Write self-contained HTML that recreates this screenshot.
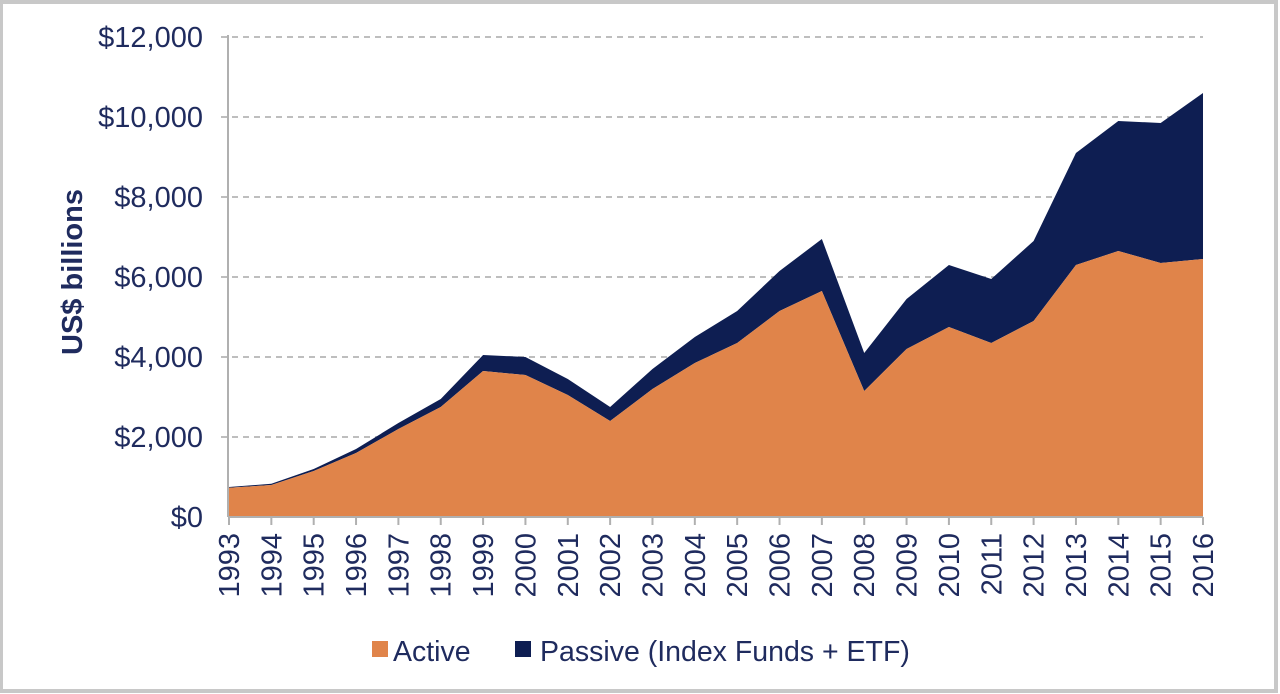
<!DOCTYPE html>
<html><head><meta charset="utf-8"><style>
html,body{margin:0;padding:0;background:#fff;}
#wrap{position:relative;width:1280px;height:694px;overflow:hidden;}
svg text{font-family:"Liberation Sans",Arial,sans-serif;fill:#1f2b5e;}
</style></head><body>
<div id="wrap">
<svg id="chart" width="1280" height="694">
<rect x="1" y="2" width="1275" height="689" fill="#fff" stroke="#c8c8c8" stroke-width="4"/>
</svg>
</div>
<script>
const years=[1993,1994,1995,1996,1997,1998,1999,2000,2001,2002,2003,2004,2005,2006,2007,2008,2009,2010,2011,2012,2013,2014,2015,2016];
const active=[730,800,1150,1600,2200,2750,3650,3550,3050,2400,3200,3850,4350,5150,5650,3150,4200,4750,4350,4900,6300,6650,6350,6450];
const passive=[20,30,50,100,150,200,400,450,400,350,500,650,800,1000,1300,950,1250,1550,1600,2000,2800,3250,3500,4150];
const yTicks=[0,2000,4000,6000,8000,10000,12000];
const yTickLabels=["$0","$2,000","$4,000","$6,000","$8,000","$10,000","$12,000"];

const NS="http://www.w3.org/2000/svg";
const svg=document.getElementById('chart');
const x0=229,x1=1203,y0=517,yTop=37,yMax=12000;
const X=i=>x0+(x1-x0)*i/(years.length-1);
const Y=v=>y0-(y0-yTop)*v/yMax;
function mk(t,a){const e=document.createElementNS(NS,t);for(const k in a)e.setAttribute(k,a[k]);svg.appendChild(e);return e;}

yTicks.forEach((v,i)=>{
  if(v>0){const g=mk('line',{x1:x0-8,x2:x1,y1:Y(v),y2:Y(v),stroke:'#a8a8a8','stroke-width':1.5,'stroke-dasharray':'6,5'});
  
  }
  const t=mk('text',{x:x0-26,y:Y(v)+10,'text-anchor':'end','font-size':29});
  t.textContent=yTickLabels[i];
  
  
});

const totals=active.map((a,i)=>a+passive[i]);
let pt='',pa='';
years.forEach((y,i)=>{pt+=(i?'L':'M')+X(i)+','+Y(totals[i]);});
for(let i=years.length-1;i>=0;i--)pt+='L'+X(i)+','+Y(active[i]);
const p1=mk('path',{d:pt+'Z',fill:'#0e1e52'});


years.forEach((y,i)=>{pa+=(i?'L':'M')+X(i)+','+Y(active[i]);});
pa+='L'+X(years.length-1)+','+y0+'L'+x0+','+y0+'Z';
const p2=mk('path',{d:pa,fill:'#e0844a'});



const ax=mk('line',{x1:x0-1,x2:x0-1,y1:yTop-2,y2:y0,stroke:'#b0b0b0','stroke-width':2});


const bx=mk('line',{x1:x0-1,x2:x1,y1:y0,y2:y0,stroke:'#b0b0b0','stroke-width':2});



years.forEach((y,i)=>{
  const tk=mk('line',{x1:X(i),x2:X(i),y1:y0,y2:y0+8,stroke:'#b0b0b0','stroke-width':2});
  
  
  const t=mk('text',{x:0,y:0,'text-anchor':'end','font-size':29,transform:`translate(${X(i)+10},533) rotate(-90)`});
  t.textContent=y;
  
  
});

const yt=mk('text',{x:0,y:0,'text-anchor':'middle','font-size':29,'font-weight':'bold',transform:'translate(82,272) rotate(-90)'});
yt.textContent='US$ billions';



const l1=mk('rect',{x:372,y:641,width:16,height:16,fill:'#e0844a'});


const lt1=mk('text',{x:393,y:661,'font-size':28.5});
lt1.textContent='Active';


const l2=mk('rect',{x:515,y:641,width:16,height:16,fill:'#0e1e52'});


const lt2=mk('text',{x:540,y:661,'font-size':28.5});
lt2.textContent='Passive (Index Funds + ETF)';


</script>
</body></html>
